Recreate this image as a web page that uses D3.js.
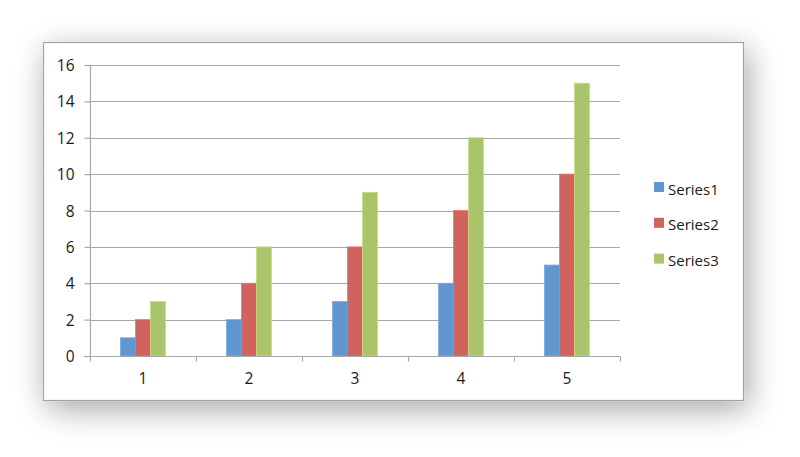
<!DOCTYPE html>
<html><head><meta charset="utf-8">
<script src="https://cdn.jsdelivr.net/npm/d3@7"></script>
<style>html,body{margin:0;padding:0;background:#fff;}svg{display:block;}</style>
</head><body>
<svg id="c" width="800" height="457"></svg>
<script>
const categories = ["1","2","3","4","5"];
const seriesNames = ["Series1","Series2","Series3"];
const series1 = [1,2,3,4,5];
const series2 = [2,4,6,8,10];
const series3 = [3,6,9,12,15];
const yTicks = [0,2,4,6,8,10,12,14,16];
const colors = ["#6196cf","#d0635d","#a9c46b"];
const allSeries = [series1, series2, series3];

const svg = d3.select("#c");
const font = "'Open Sans', sans-serif";

const defs = svg.append("defs");
const f = defs.append("filter").attr("id","sh").attr("x","-20%").attr("y","-35%").attr("width","140%").attr("height","175%");
f.append("feGaussianBlur").attr("in","SourceAlpha").attr("stdDeviation",16).attr("result","b");
f.append("feOffset").attr("in","b").attr("dx",4).attr("dy",8).attr("result","o");
f.append("feComponentTransfer").attr("in","o").attr("result","o2")
  .append("feFuncA").attr("type","linear").attr("slope",0.36);
const m = f.append("feMerge");
m.append("feMergeNode").attr("in","o2");
m.append("feMergeNode").attr("in","SourceGraphic");

svg.append("rect").attr("x",43.5).attr("y",42.5).attr("width",700).attr("height",358)
  .attr("fill","#fff").attr("stroke","#a3a3a3").attr("stroke-width",1.2).attr("filter","url(#sh)");

const x0 = d3.scaleBand().domain(categories).range([90,620]).padding(0);
const x1 = d3.scaleBand().domain(seriesNames).range([0,x0.bandwidth()]).paddingInner(0).paddingOuter(2.03);
const y = d3.scaleLinear().domain([0,16]).range([356,65]);

// gridlines
svg.append("g").selectAll("line").data(yTicks.filter(d=>d>0)).join("line")
  .attr("x1",90).attr("x2",620).attr("y1",d=>Math.round(y(d))+0.5).attr("y2",d=>Math.round(y(d))+0.5)
  .attr("stroke","#a8a8a8").attr("stroke-width",1.2);

// bars
seriesNames.forEach((s,i)=>{
  svg.append("g").selectAll("rect").data(allSeries[i]).join("rect")
    .attr("x",(d,j)=>x0(categories[j])+x1(s))
    .attr("y",d=>y(d))
    .attr("width",x1.bandwidth())
    .attr("height",d=>y(0)-y(d))
    .attr("fill",colors[i])
    .attr("stroke",d3.color(colors[i]).brighter(0.4))
    .attr("stroke-width",0.8);
});

// y axis
const yAxis = d3.axisLeft(y).tickValues(yTicks).tickSize(6).tickPadding(10);
const gy = svg.append("g").attr("transform","translate(90.5,0)").call(yAxis);
gy.selectAll("line").attr("stroke","#a8a8a8").attr("stroke-width",1.2);
gy.select(".domain").attr("stroke","#a8a8a8").attr("stroke-width",1.2).attr("d","M0,65V356");
gy.selectAll("text").attr("font-family",font).attr("font-size",15.5).attr("fill","#1a1a1a").attr("dy","0.36em");

// x axis
const xAxis = d3.axisBottom(x0).tickSize(0).tickPadding(16);
const gx = svg.append("g").attr("transform","translate(0,356.5)").call(xAxis);
gx.select(".domain").attr("stroke","#a8a8a8").attr("stroke-width",1.2).attr("d","M84,0H620");
gx.selectAll("text").attr("font-family",font).attr("font-size",15.5).attr("fill","#1a1a1a");
// category boundary tick marks
gx.append("g").selectAll("line").data(categories.concat(["end"])).join("line")
  .attr("x1",(d,i)=> i<categories.length ? Math.round(x0(d))+0.5 : 620.5)
  .attr("x2",(d,i)=> i<categories.length ? Math.round(x0(d))+0.5 : 620.5)
  .attr("y1",0).attr("y2",5).attr("stroke","#a8a8a8").attr("stroke-width",1.2);

// legend
const lg = svg.append("g").attr("transform","translate(654,182)");
seriesNames.forEach((s,i)=>{
  const g = lg.append("g").attr("transform",`translate(0,${i*35.8})`);
  g.append("rect").attr("width",10).attr("height",10).attr("fill",colors[i]);
  g.append("text").attr("x",14).attr("y",12.5).text(s)
    .attr("font-family",font).attr("font-size",15).attr("fill","#1a1a1a");
});
</script>
</body></html>
